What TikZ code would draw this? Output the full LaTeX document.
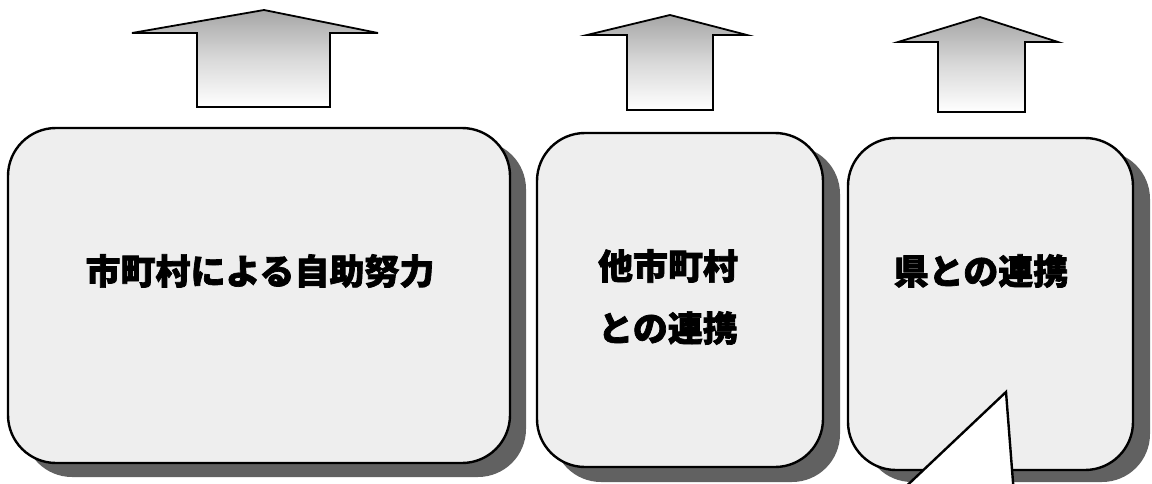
\documentclass[tikz,border=0pt]{standalone}
\usepackage{fontspec}
\newfontfamily\jp{Noto Sans CJK JP}[BoldFeatures={FakeBold=2}]
\begin{document}
\begin{tikzpicture}[x=1pt,y=-1pt,
  boxstyle/.style={draw=black,line width=2.4pt,fill=gray!13,rounded corners=48pt},
  shadowstyle/.style={fill=black!62,rounded corners=48pt},
  arrowstyle/.style={top color=gray!70,bottom color=white,middle color=gray!30},
  arrowline/.style={draw=black,line width=1.8pt},
  label/.style={font=\jp\bfseries\fontsize{35}{62}\selectfont,align=center,text=black}]
\useasboundingbox (0,0) rectangle (1152,484);
\clip (0,0) rectangle (1152,484);
% arrows
\shade[arrowstyle] (132,33) -- (264,10) -- (378,33) -- (330,33) -- (330,107) -- (197,107) -- (197,33) -- cycle;
\draw[arrowline] (132,33) -- (264,10) -- (378,33) -- (330,33) -- (330,107) -- (197,107) -- (197,33) -- cycle;
\shade[arrowstyle] (587,35) -- (670,15) -- (747,35) -- (713,35) -- (713,110) -- (627,110) -- (627,35) -- cycle;
\draw[arrowline] (587,35) -- (670,15) -- (747,35) -- (713,35) -- (713,110) -- (627,110) -- (627,35) -- cycle;
\shade[arrowstyle] (898,42) -- (980,17) -- (1058,42) -- (1025,42) -- (1025,112) -- (938,112) -- (938,42) -- cycle;
\draw[arrowline] (898,42) -- (980,17) -- (1058,42) -- (1025,42) -- (1025,112) -- (938,112) -- (938,42) -- cycle;
% shadows
\fill[shadowstyle] (24,141) rectangle (526,477);
\fill[shadowstyle] (553,146) rectangle (840,482);
\fill[shadowstyle] (864,151) rectangle (1150,482);
% boxes
\draw[boxstyle] (8,128) rectangle (510,463);
\draw[boxstyle] (537,133) rectangle (823,467);
\draw[boxstyle] (848,138) rectangle (1133,470);
% notch of box 3
\fill[white] (897,495) -- (1006,392) -- (1014,495) -- cycle;
\draw[line width=2.4pt] (897,495) -- (1006,392) -- (1014,495);
% labels
\node[label] (t1) at (260,271) {市町村による自助努力};
\node[label] (t2) at (668,297) {他市町村\\との連携};
\node[label] (t3) at (981,271) {県との連携};
\end{tikzpicture}
\end{document}
